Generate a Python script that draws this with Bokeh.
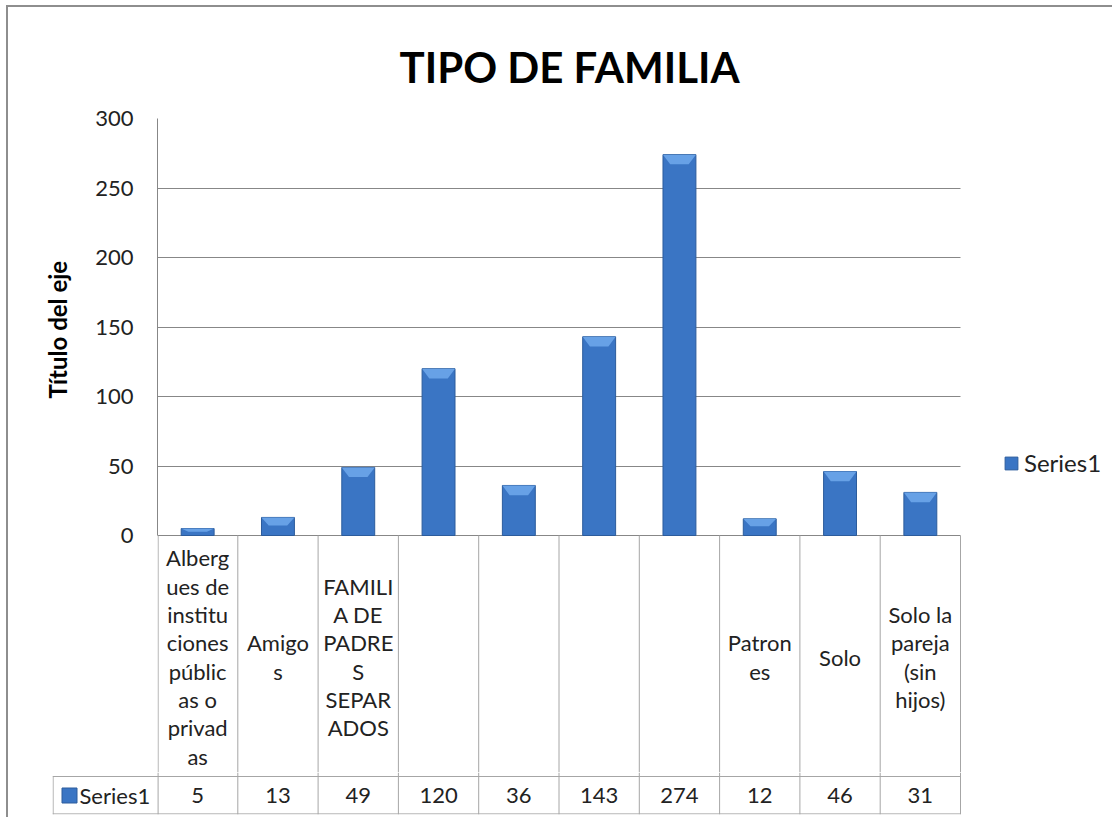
from bokeh.plotting import figure
from bokeh.models import Range1d, FixedTicker, Legend, LegendItem, Title
from bokeh.layouts import column
from bokeh.core.properties import value
from bokeh.embed import file_html
from bokeh.resources import INLINE

# ---------------- data ----------------
categories = ["Albergues de instituciones públicas o privadas", "Amigos",
              "FAMILIA DE PADRES SEPARADOS", "", "", "", "",
              "Patrones", "Solo", "Solo la pareja (sin hijos)"]
category_labels = ["Alberg\nues de\ninstitu\nciones\npúblic\nas o\nprivad\nas",
                   "Amigo\ns",
                   "FAMILI\nA DE\nPADRE\nS\nSEPAR\nADOS",
                   "", "", "", "",
                   "Patron\nes", "Solo", "Solo la\npareja\n(sin\nhijos)"]
values = [5, 13, 49, 120, 36, 143, 274, 12, 46, 31]
series_name = "Series1"
y_ticks = [0, 50, 100, 150, 200, 250, 300]
title_text = "TIPO DE FAMILIA"
y_title = "Título del eje"

# ---------------- layout constants (page px) ----------------
PAGE_X0, PAGE_Y0 = 8, 7          # canvas origin on page
P_AXIS_X = 157                   # x = 0
P_CELL_LEFT = 52                 # left edge of "Series1" cell
P_TOP = 118                      # y = 300
P_ZERO = 535                     # y = 0
P_SPLIT = 774                    # boundary between the two canvases
P_LABROW = 778                   # bottom of the category-label row
P_BOTTOM = 816                   # bottom of the data table
P_YTITLE_START = 398             # lower end of the rotated axis title

W = 1106
PXX = 80.3
PXY = (P_ZERO - P_TOP) / 300.0
n = len(values)

def ydat(py):
    return -(py - P_ZERO) / PXY

y_split = ydat(P_SPLIT)
y_lab_bot = ydat(P_LABROW)
y_bot = ydat(P_BOTTOM)
y_lab_mid = ydat((P_ZERO + P_LABROW) / 2)
x_right = (PAGE_X0 + W - P_AXIS_X) / PXX
x_cell = -(P_AXIS_X - P_CELL_LEFT) / PXX

FONT = "Lato"
GRID_C = "#878787"
TABLE_C = "#a6a6a6"
BAR_C = "#3a75c4"
BAR_LINE = "#2c5c9c"
BEVEL_C = "#6da6ea"
TXT_C = "#222222"
BORDER = "2px solid #8e8e8e"

eps_y = 0.6 / PXY
eps_x = 0.6 / PXX
xs = [i + 0.5 for i in range(n)]

# ================= chart + category row (top canvas) =================
H1 = P_SPLIT - PAGE_Y0
FL1 = P_AXIS_X - PAGE_X0
FT1 = P_TOP - PAGE_Y0
p = figure(width=W, height=H1, output_backend="svg", toolbar_location=None,
           x_range=Range1d(0, x_right), y_range=Range1d(y_split, 300),
           min_border_left=FL1, min_border_right=0, min_border_top=FT1,
           min_border_bottom=0)
p.frame_align = False
p.styles = {"border-top": BORDER, "border-left": BORDER,
            "margin-left": "6px", "margin-top": "5px"}
p.outline_line_color = None
p.background_fill_color = "white"
p.border_fill_color = "white"

p.title.text = title_text
p.title.text_font = FONT
p.title.text_font_style = "bold"
p.title.text_font_size = "42px"
p.title.text_color = "black"
p.title.align = "left"
p.title.offset = 242
p.title.standoff = 54

p.xaxis.visible = False
p.xgrid.visible = False
ya = p.yaxis[0]
ya.bounds = (0, 300)
ya.ticker = FixedTicker(ticks=y_ticks)
ya.major_tick_in = 0
ya.major_tick_out = 0
ya.minor_tick_in = 0
ya.minor_tick_out = 0
ya.axis_line_color = GRID_C
ya.major_label_text_font = FONT
ya.major_label_text_font_size = "22px"
ya.major_label_text_color = TXT_C
ya.major_label_standoff = 24

# axis title (placed alongside the 0..300 part of the axis)
ytitle = Title(text=y_title, align="left", offset=P_SPLIT - P_YTITLE_START,
               text_font=FONT, text_font_style="bold", text_font_size="24px",
               text_color="black", standoff=42)
p.add_layout(ytitle, "left")

yg = p.ygrid[0]
yg.ticker = FixedTicker(ticks=y_ticks)
yg.grid_line_color = GRID_C
yg.cross_bounds = (0, n)

bw = 0.41
bars = p.vbar(x=xs, top=values, bottom=0, width=bw, fill_color=BAR_C,
              line_color=BAR_LINE, line_width=1)
bev_x, bev_y = [], []
for x, v in zip(xs, values):
    dy = min(7.0, v * 0.45)
    dx = 0.09
    bev_x.append([x - bw / 2, x + bw / 2, x + bw / 2 - dx, x - bw / 2 + dx])
    bev_y.append([v, v, v - dy, v - dy])
p.patches(bev_x, bev_y, fill_color=BEVEL_C, line_color=None, fill_alpha=0.9)

# data table: column lines and category labels
vx = [float(i) for i in range(n + 1)]
vx[0] = eps_x
p.segment(vx, [0.0] * (n + 1), vx, [y_split] * (n + 1),
          line_color=TABLE_C, line_width=1)
p.text(x=xs, y=[y_lab_mid] * n, text=category_labels,
       text_font=value(FONT), text_font_size="22px", text_color=TXT_C,
       text_align="center", text_baseline="middle", text_line_height=1.05)

legend = Legend(items=[LegendItem(label=series_name, renderers=[bars])],
                location=(846, 297), orientation="vertical")
legend.label_text_font = FONT
legend.label_text_font_size = "24px"
legend.label_text_color = TXT_C
legend.glyph_width = 16
legend.glyph_height = 16
legend.label_standoff = 5
legend.border_line_color = None
legend.background_fill_alpha = 0
legend.margin = 0
legend.padding = 0
p.add_layout(legend)

# ================= value row (bottom canvas) =================
H2 = P_BOTTOM + 3 - P_SPLIT
FL2 = P_CELL_LEFT - PAGE_X0
t = figure(width=W, height=H2, output_backend="svg", toolbar_location=None,
           x_range=Range1d(x_cell, x_right), y_range=Range1d(y_bot, y_split),
           min_border_left=FL2, min_border_right=0, min_border_top=0,
           min_border_bottom=3)
t.frame_align = False
t.styles = {"border-left": BORDER, "margin-left": "6px"}
t.outline_line_color = None
t.background_fill_color = "white"
t.border_fill_color = "white"
t.axis.visible = False
t.grid.visible = False

seg_x0 = vx + [x_cell, x_cell, x_cell + eps_x]
seg_x1 = vx + [float(n), float(n), x_cell + eps_x]
seg_y0 = [y_split] * (n + 1) + [y_lab_bot, y_bot + eps_y, y_lab_bot]
seg_y1 = [y_bot] * (n + 1) + [y_lab_bot, y_bot + eps_y, y_bot]
t.segment(seg_x0, seg_y0, seg_x1, seg_y1, line_color=TABLE_C, line_width=1)

val_y = (y_lab_bot + y_bot) / 2
t.text(x=xs, y=[val_y] * n, text=[str(v) for v in values],
       text_font=value(FONT), text_font_size="22px", text_color=TXT_C,
       text_align="center", text_baseline="middle")
t.scatter(x=[x_cell + 17 / PXX], y=[val_y], marker="square", size=15,
          fill_color=BAR_C, line_color=BAR_LINE)
t.text(x=[x_cell + 27 / PXX], y=[val_y], text=[series_name],
       text_font=value(FONT), text_font_size="22px", text_color=TXT_C,
       text_align="left", text_baseline="middle")

layout = column(p, t, spacing=0)
open("out.html", "w").write(file_html(layout, INLINE))
